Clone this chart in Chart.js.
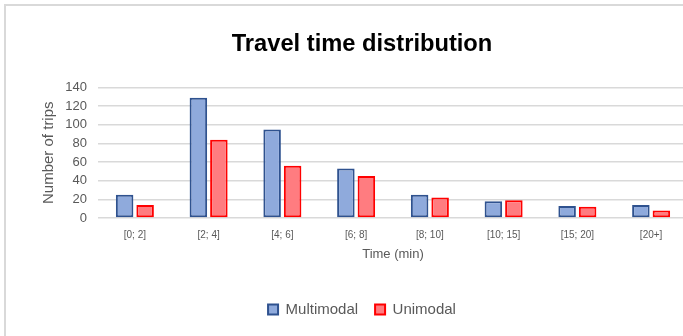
<!DOCTYPE html>
<html>
<head>
<meta charset="utf-8">
<script src="https://cdn.jsdelivr.net/npm/chart.js@4/dist/chart.umd.min.js"></script>
<style>
  html, body { margin: 0; padding: 0; background: #ffffff; overflow: hidden; }
  #wrap { position: relative; width: 683px; height: 336px; overflow: hidden; }
  #frame { position: absolute; left: 4px; top: 4px; width: 800px; height: 400px;
           border: 2px solid #d9d9d9; box-sizing: border-box; pointer-events: none; }
  canvas { position: absolute; left: 0; top: 0; }
</style>
</head>
<body>
<div id="wrap">
  <canvas id="chart" width="724" height="360"></canvas>
  <div id="frame"></div>
</div>
<script>
// Travel time bins (minutes)
const categories = ['[0; 2]', '[2; 4]', '[4; 6]', '[6; 8]', '[8; 10]', '[10; 15]', '[15; 20]', '[20+]'];
// Number of trips per bin
const multimodal = [25, 129, 95, 53, 25, 18, 13, 14];
const unimodal = [14, 84, 56, 45, 22, 19, 12, 8];
// Y axis range
const yMin = 0;
const yMax = 140;
const yStep = 20;

const FONT = '"Liberation Sans", Arial, sans-serif';
const GREY = '#595959';

new Chart(document.getElementById('chart'), {
  type: 'bar',
  data: {
    labels: categories,
    datasets: [
      {
        label: 'Multimodal',
        data: multimodal,
        backgroundColor: '#8faadc',
        borderColor: '#2f528f',
        borderWidth: 2,
        borderSkipped: false
      },
      {
        label: 'Unimodal',
        data: unimodal,
        backgroundColor: '#ff7c80',
        borderColor: '#ff0000',
        borderWidth: 2,
        borderSkipped: false
      }
    ]
  },
  options: {
    responsive: false,
    animation: false,
    events: [],
    layout: { padding: { left: 0, right: 0, top: 0, bottom: 33 } },
    datasets: {
      bar: { categoryPercentage: 0.556, barPercentage: 0.854 }
    },
    plugins: {
      title: {
        display: true,
        text: 'Travel time distribution',
        color: '#000000',
        font: { family: FONT, size: 23.7, weight: 'bold' },
        padding: { top: 30, bottom: 29 }
      },
      legend: {
        display: true,
        position: 'bottom',
        labels: {
          color: GREY,
          font: { family: FONT, size: 15 },
          boxWidth: 10,
          boxHeight: 10,
          padding: 17
        }
      },
      tooltip: { enabled: false }
    },
    scales: {
      x: {
        grid: { display: false, drawTicks: false },
        border: { display: false },
        ticks: { color: GREY, font: { family: FONT, size: 10 }, padding: 11, maxRotation: 0, autoSkip: false },
        title: {
          display: true,
          text: 'Time (min)',
          color: GREY,
          font: { family: FONT, size: 13 },
          padding: { top: 0, bottom: 23 }
        },
        afterFit: (scale) => { scale.height = 67; }
      },
      y: {
        min: yMin,
        max: yMax,
        grid: { color: '#d9d9d9', lineWidth: 1.5, drawTicks: false },
        border: { display: false },
        ticks: { stepSize: yStep, autoSkip: false, color: GREY, font: { family: FONT, size: 13 }, padding: 11 },
        title: {
          display: true,
          text: 'Number of trips',
          color: GREY,
          font: { family: FONT, size: 15 },
          padding: { top: 40, bottom: 0 }
        },
        afterFit: (scale) => { scale.width = 98; }
      },
      // empty right-hand margin of the plot area
      yRight: {
        type: 'linear',
        position: 'right',
        grid: { display: false, drawTicks: false },
        border: { display: false },
        ticks: { display: false },
        afterFit: (scale) => { scale.width = 36; }
      }
    }
  }
});
</script>
</body>
</html>
